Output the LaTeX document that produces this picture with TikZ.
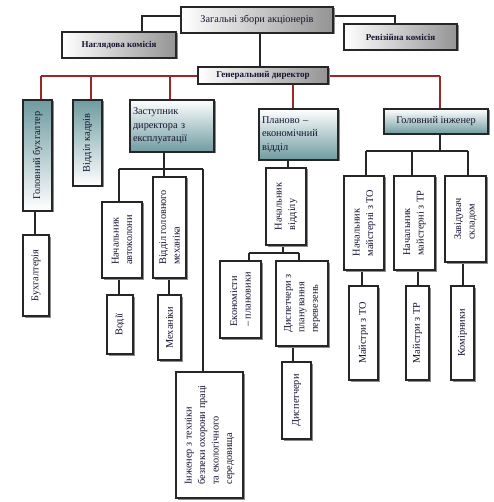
\documentclass[tikz,border=0pt]{standalone}
\usepackage{fontspec}
\setmainfont{Liberation Serif}
\usetikzlibrary{shadows,backgrounds}
\definecolor{redl}{RGB}{155,40,40}
\definecolor{tealc}{RGB}{110,155,160}
\definecolor{txt}{RGB}{20,20,50}
\tikzset{
  box/.style={draw=black!85, line width=1.5pt, fill=white,
    drop shadow={shadow xshift=1.5pt, shadow yshift=-1.5pt, fill=black!45, opacity=1},
    inner sep=1pt, font=\fontsize{10.3}{13.5}\selectfont, text=txt},
  graybox/.style={box, left color=white, right color=black!42},
  tealbox/.style={box, shading angle=-40, top color=white, bottom color=tealc},
  tealv/.style={box, rotate=90, top color=tealc, bottom color=white, align=left},
  vbox/.style={box, rotate=90, align=left},
  boldtxt/.style={font=\fontsize{9}{11}\selectfont\bfseries},
  conn/.style={line width=1.2pt, draw=black!85},
  rconn/.style={line width=1.2pt, draw=redl}
}
\begin{document}
\begin{tikzpicture}[x=1pt,y=-1pt]
\useasboundingbox (0,0) rectangle (493,502);
% top level
\node[graybox, minimum width=152pt, minimum height=26pt] (zag) at (257,20) {Загальні збори акціонерів};
\node[graybox, boldtxt, minimum width=114pt, minimum height=26pt] (nag) at (119,45) {Наглядова комісія};
\node[graybox, boldtxt, minimum width=113pt, minimum height=26pt] (rev) at (400.5,37) {Ревізійна комісія};
\node[graybox, boldtxt, minimum width=130pt, minimum height=17pt] (gen) at (263,75.5) {Генеральний директор};
% level 2
\node[tealv, minimum width=111pt, minimum height=29pt] (gb) at (37.5,155.5) {Головний бухгалтер};
\node[tealv, minimum width=86pt, minimum height=29pt] (vk) at (87.5,143) {Відділ кадрів};
\node[tealbox, minimum width=84pt, minimum height=52pt, align=left, text width=78pt] (zast) at (172,126) {Заступник\\директора з\\експлуатації};
\node[tealbox, minimum width=79pt, minimum height=51pt, align=left, text width=73pt] (plan) at (298.5,134.5) {Планово –\\економічний\\відділ};
\node[tealbox, minimum width=104pt, minimum height=25pt] (gi) at (436,121.5) {Головний інженер};
% bookkeeping
\node[vbox, minimum width=81pt, minimum height=26pt] (buh) at (36,275.5) {Бухгалтерія};
% under deputy
\node[vbox, minimum width=76pt, minimum height=40pt] (nak) at (122,240) {Начальник\\автоколони};
\node[vbox, minimum width=101pt, minimum height=33pt] (vgm) at (169.5,227.5) {Відділ головного\\механіка};
\node[vbox, minimum width=59pt, minimum height=26pt] (vod) at (120,324.5) {Водії};
\node[vbox, minimum width=65pt, minimum height=23pt] (mek) at (169.5,327.5) {Механіки};
\node[vbox, minimum width=126pt, minimum height=67pt] (ing) at (209.5,435) {Інженер з техніки\\безпеки охорони праці\\та екологічного\\середовища};
% under planning
\node[vbox, minimum width=77pt, minimum height=40pt] (nv) at (286,206.5) {Начальник\\відділу};
\node[vbox, minimum width=77pt, minimum height=41pt] (eko) at (240.5,299.5) {Економісти\\– плановики};
\node[vbox, minimum width=85pt, minimum height=52pt] (dsp) at (302,303.5) {Диспетчери з\\планування\\перевезень};
\node[vbox, minimum width=77pt, minimum height=29pt] (dis) at (296.5,400.5) {Диспетчери};
% under chief engineer
\node[vbox, minimum width=94pt, minimum height=40pt] (nto) at (364,223) {Начальник\\майстерні з ТО};
\node[vbox, minimum width=94pt, minimum height=41pt] (ntr) at (414.5,223) {Начальник\\майстерні з ТР};
\node[vbox, minimum width=86pt, minimum height=41pt] (zav) at (465.5,219) {Завідувач\\складом};
\node[vbox, minimum width=94pt, minimum height=29pt] (mto) at (363.5,333) {Майстри з ТО};
\node[vbox, minimum width=94pt, minimum height=23pt] (mtr) at (417.5,333) {Майстри з ТР};
\node[vbox, minimum width=94pt, minimum height=23pt] (kom) at (462.5,333) {Комірники};

\begin{scope}[on background layer]
% top connectors
\coordinate (n1) at (142,16);
\coordinate (r1) at (395,16);
\coordinate (g1) at (260,50);
\draw[conn] (zag.west |- n1) -- (n1) -- (n1 |- nag.north);
\draw[conn] (zag.east |- r1) -- (r1) -- (r1 |- rev.north);
\draw[conn] (g1 |- zag.south) -- (g1 |- gen.north);
% red bus
\coordinate (b1) at (41,76);
\coordinate (b2) at (91,76);
\coordinate (b3) at (170,76);
\coordinate (b4) at (293,76);
\coordinate (b5) at (440,76);
\draw[rconn] (b1) -- (b5);
\draw[rconn] (b1) -- (b1 |- gb.east);
\draw[rconn] (b2) -- (b2 |- vk.east);
\draw[rconn] (b3) -- (b3 |- zast.north);
\draw[rconn] (b4) -- (b4 |- plan.north);
\draw[rconn] (b5) -- (b5 |- gi.north);
% bookkeeping
\coordinate (c1) at (35,223);
\draw[conn] (c1 |- gb.west) -- (c1 |- buh.east);
% deputy branch
\coordinate (z0) at (164,169);
\coordinate (z1) at (119,169);
\coordinate (z3) at (203,169);
\draw[conn] (z0 |- zast.south) -- (z0);
\draw[conn] (z1) -- (z3);
\draw[conn] (z1) -- (z1 |- nak.east);
\draw[conn] (z0) -- (z0 |- vgm.east);
\draw[conn] (z3) -- (z3 |- ing.east);
\coordinate (v1) at (119,286);
\coordinate (m1) at (169,286);
\draw[conn] (v1 |- nak.west) -- (v1 |- vod.east);
\draw[conn] (m1 |- vgm.west) -- (m1 |- mek.east);
% planning branch
\coordinate (p0) at (288,164);
\draw[conn] (p0 |- plan.south) -- (p0 |- nv.east);
\coordinate (q0) at (283,253);
\coordinate (q1) at (249,253);
\coordinate (q2) at (299,253);
\draw[conn] (q0 |- nv.west) -- (q0);
\draw[conn] (q1) -- (q2);
\draw[conn] (q1) -- (q1 |- eko.east);
\draw[conn] (q2) -- (q2 |- dsp.east);
\coordinate (d1) at (293,354);
\draw[conn] (d1 |- dsp.west) -- (d1 |- dis.east);
% chief engineer branch
\coordinate (e0) at (440,151);
\coordinate (e1) at (366,151);
\coordinate (e2) at (412,151);
\coordinate (e3) at (468,151);
\draw[conn] (e0 |- gi.south) -- (e0);
\draw[conn] (e1) -- (e3);
\draw[conn] (e1) -- (e1 |- nto.east);
\draw[conn] (e2) -- (e2 |- ntr.east);
\draw[conn] (e3) -- (e3 |- zav.east);
\coordinate (f1) at (362,278);
\coordinate (f2) at (418,278);
\coordinate (f3) at (463,278);
\draw[conn] (f1 |- nto.west) -- (f1 |- mto.east);
\draw[conn] (f2 |- ntr.west) -- (f2 |- mtr.east);
\draw[conn] (f3 |- zav.west) -- (f3 |- kom.east);
\end{scope}
\end{tikzpicture}
\end{document}
